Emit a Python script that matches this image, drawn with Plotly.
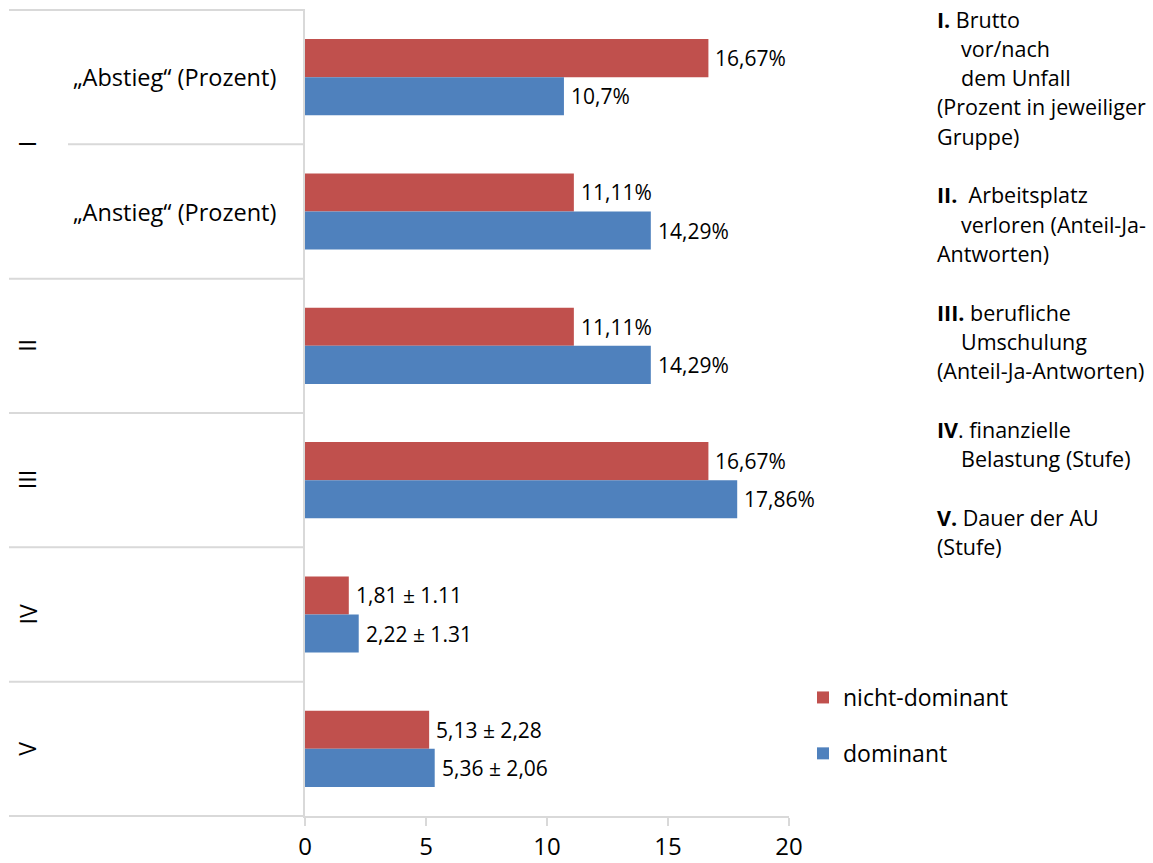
import plotly.graph_objects as go

# ---- data -------------------------------------------------------------
rows = [0, 1, 2, 3, 4, 5]
row_labels = ["\u201eAbstieg\u201c (Prozent)", "\u201eAnstieg\u201c (Prozent)", "", "", "", ""]
group_numerals = ["I", "II", "III", "IV", "V"]
group_rows = [[0, 1], [2], [3], [4], [5]]

nicht_dominant = [16.67, 11.11, 11.11, 16.67, 1.81, 5.13]
dominant = [10.7, 14.29, 14.29, 17.86, 2.22, 5.36]
nicht_dominant_labels = ["16,67%", "11,11%", "11,11%", "16,67%", "1,81 \u00b1 1.11", "5,13 \u00b1 2,28"]
dominant_labels = ["10,7%", "14,29%", "14,29%", "17,86%", "2,22 \u00b1 1.31", "5,36 \u00b1 2,06"]

x_ticks = [0, 5, 10, 15, 20]

# explanatory notes on the right: (text, indented)
notes = [
    ("<b>I.</b> Brutto", False),
    ("vor/nach", True),
    ("dem Unfall", True),
    ("(Prozent in jeweiliger", False),
    ("Gruppe)", False),
    (None, False),
    ("<b>II.</b>\u00a0 Arbeitsplatz", False),
    ("verloren (Anteil-Ja-", True),
    ("Antworten)", False),
    (None, False),
    ("<b>III.</b> berufliche", False),
    ("Umschulung", True),
    ("(Anteil-Ja-Antworten)", False),
    (None, False),
    ("<b>IV</b>. finanzielle", False),
    ("Belastung (Stufe)", True),
    (None, False),
    ("<b>V.</b> Dauer der AU", False),
    ("(Stufe)", False),
]

RED = "#C0504D"
BLUE = "#4F81BD"
GRID = "#D9D9D9"
FONT = "Open Sans, Noto Sans, sans-serif"

W, H = 1153, 863
PX0, PX1 = 305, 789   # plot area, horizontal pixels
PY0, PY1 = 10, 816    # plot area, vertical pixels
BARGAP = 0.433


def fx(p):
    return (p - PX0) / (PX1 - PX0)


def fy(p):
    return 1 - (p - PY0) / (PY1 - PY0)


n_rows = len(rows)

fig = go.Figure()
fig.add_trace(go.Bar(
    y=rows, x=nicht_dominant, orientation="h", name="nicht-dominant",
    marker=dict(color=RED, line=dict(width=0)), legendgroup="nd",
    hoverinfo="skip",
))
fig.add_trace(go.Bar(
    y=rows, x=dominant, orientation="h", name="dominant",
    marker=dict(color=BLUE, line=dict(width=0)), legendgroup="d",
    hoverinfo="skip",
))

annotations = []
shapes = []

# value labels next to the bar ends
half = (1 - BARGAP) / 4
label_font = dict(family=FONT, size=21, color="black")
for r, v, t in zip(rows, nicht_dominant, nicht_dominant_labels):
    annotations.append(dict(x=v, y=r - half, xref="x", yref="y", text=t,
                            showarrow=False, xanchor="left", yanchor="middle",
                            xshift=5, font=label_font))
for r, v, t in zip(rows, dominant, dominant_labels):
    annotations.append(dict(x=v, y=r + half, xref="x", yref="y", text=t,
                            showarrow=False, xanchor="left", yanchor="middle",
                            xshift=5, font=label_font))

row_h = (PY1 - PY0) / n_rows

# inner category labels
for r, lab in zip(rows, row_labels):
    if lab:
        annotations.append(dict(x=fx(174), y=fy(PY0 + (r + 0.5) * row_h),
                                xref="paper", yref="paper", text=lab, showarrow=False,
                                xanchor="center", yanchor="middle",
                                font=dict(family=FONT, size=23.5, color="black")))

# outer (group) labels, rotated
for num, grp in zip(group_numerals, group_rows):
    centre = PY0 + (grp[0] + grp[-1] + 1) / 2 * row_h
    annotations.append(dict(x=fx(27), y=fy(centre), xref="paper", yref="paper",
                            text=num, showarrow=False, textangle=-90,
                            xanchor="center", yanchor="middle",
                            font=dict(family=FONT, size=23, color="black")))

# category divider lines left of the value axis
for k in range(n_rows + 1):
    yk = PY0 + k * row_h
    start = 68 if k == 1 else 9
    shapes.append(dict(type="line", xref="paper", yref="paper",
                       x0=fx(start), x1=0, y0=fy(yk), y1=fy(yk),
                       line=dict(color=GRID, width=2)))

# notes block
for i, (txt, indent) in enumerate(notes):
    if txt is None:
        continue
    annotations.append(dict(x=fx(959 if indent else 935), y=fy(19 + i * 29.3),
                            xref="paper", yref="paper", text=txt, showarrow=False,
                            xanchor="left", yanchor="middle", align="left",
                            font=dict(family=FONT, size=21.5, color="black")))

fig.update_layout(
    width=W, height=H,
    margin=dict(l=PX0, r=W - PX1, t=PY0, b=H - PY1, pad=0),
    paper_bgcolor="white", plot_bgcolor="white",
    barmode="group", bargap=BARGAP, bargroupgap=0,
    font=dict(family=FONT, color="black"),
    xaxis=dict(range=[0, 20], tickvals=x_ticks, ticktext=[str(t) for t in x_ticks],
               showgrid=False, zeroline=False, showline=True, linecolor=GRID,
               linewidth=2, ticks="outside", ticklen=8, tickwidth=2, tickcolor=GRID,
               tickfont=dict(family=FONT, size=24, color="black"),
               automargin=False, fixedrange=True),
    yaxis=dict(range=[n_rows - 0.5, -0.5], showticklabels=False, showgrid=False,
               zeroline=False, showline=True, linecolor=GRID, linewidth=2,
               ticks="", automargin=False, fixedrange=True),
    legend=dict(x=fx(803), y=fy(676), xanchor="left", yanchor="top",
                traceorder="grouped", tracegroupgap=23,
                font=dict(family=FONT, size=23, color="black"),
                bgcolor="rgba(0,0,0,0)", borderwidth=0),
    annotations=annotations,
    shapes=shapes,
)

fig.write_html("out.html")
